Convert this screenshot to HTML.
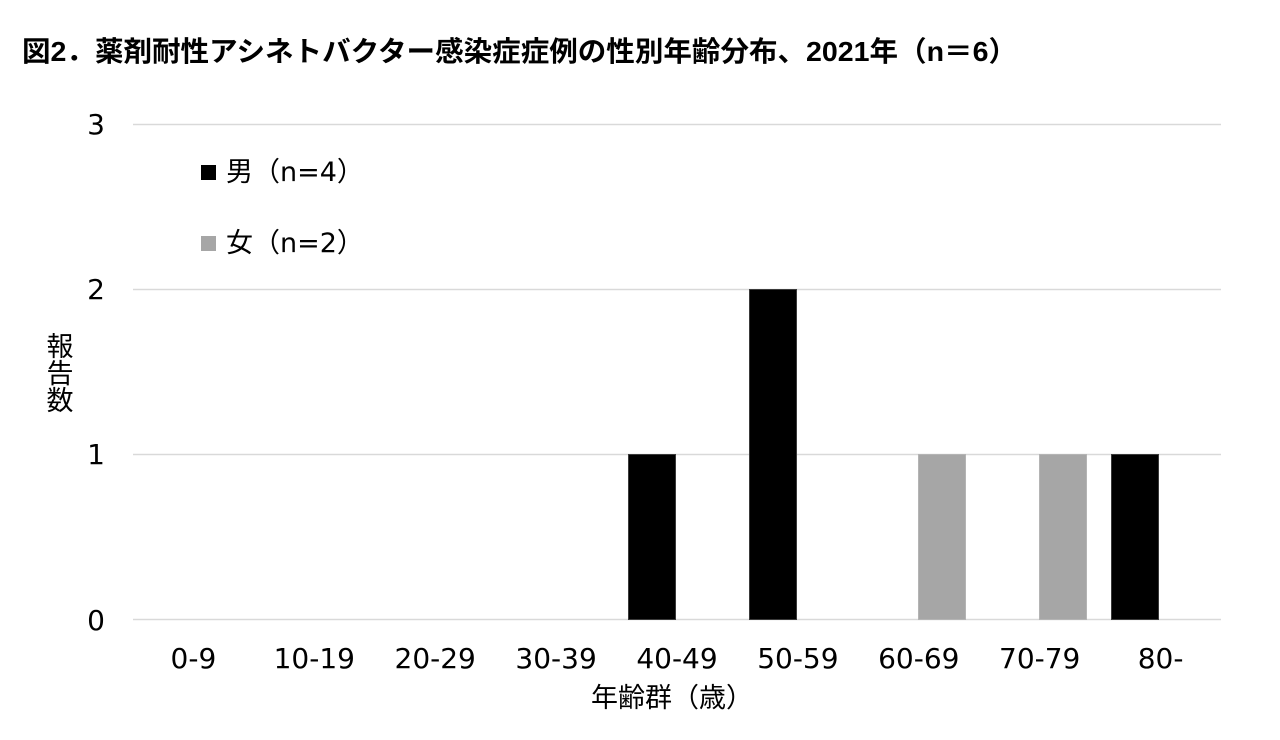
<!DOCTYPE html>
<html>
<head>
<meta charset="utf-8">
<style>
html,body{margin:0;padding:0;background:#fff;}
svg{display:block;}
.t{font-family:"Liberation Sans","Noto Sans CJK JP",sans-serif;font-weight:bold;}
.n{font-family:"DejaVu Sans","Noto Sans CJK JP",sans-serif;}
.j{font-family:"DejaVu Sans","Noto Sans CJK JP",sans-serif;}
</style>
</head>
<body>
<svg width="1280" height="740" viewBox="0 0 1280 740" xmlns="http://www.w3.org/2000/svg">
<rect width="1280" height="740" fill="#fff"/>
<text class="t" x="22" y="61" font-size="28" fill="#000" textLength="995" lengthAdjust="spacingAndGlyphs">図2．薬剤耐性アシネトバクター感染症症例の性別年齢分布、2021年（n＝6）</text>

<!-- gridlines -->
<g stroke="#d9d9d9" stroke-width="1.5">
<line x1="133" y1="124.5" x2="1221" y2="124.5"/>
<line x1="133" y1="289.5" x2="1221" y2="289.5"/>
<line x1="133" y1="454.5" x2="1221" y2="454.5"/>
<line x1="133" y1="619.5" x2="1221" y2="619.5"/>
</g>

<!-- y tick labels -->
<g class="n" font-size="28" fill="#000" text-anchor="end">
<text x="105" y="134">3</text>
<text x="105" y="299">2</text>
<text x="105" y="464">1</text>
<text x="105" y="630">0</text>
</g>

<!-- bars -->
<rect x="628.5" y="454.5" width="47" height="165" fill="#000" stroke="#3a3a3a" stroke-width="1"/>
<rect x="749.5" y="289.5" width="47" height="330" fill="#000" stroke="#3a3a3a" stroke-width="1"/>
<rect x="918.5" y="454.5" width="47" height="165" fill="#a6a6a6" stroke="#b4b4b4" stroke-width="1"/>
<rect x="1039.5" y="454.5" width="47" height="165" fill="#a6a6a6" stroke="#b4b4b4" stroke-width="1"/>
<rect x="1111.5" y="454.5" width="47" height="165" fill="#000" stroke="#3a3a3a" stroke-width="1"/>

<!-- x tick labels -->
<g class="n" font-size="28" fill="#000" text-anchor="middle">
<text x="193.4" y="668">0-9</text>
<text x="314.3" y="668">10-19</text>
<text x="435.2" y="668">20-29</text>
<text x="556.1" y="668">30-39</text>
<text x="677" y="668">40-49</text>
<text x="797.9" y="668">50-59</text>
<text x="918.8" y="668">60-69</text>
<text x="1039.7" y="668">70-79</text>
<text x="1160.6" y="668">80-</text>
</g>

<!-- axis titles -->
<text class="j" x="591" y="707" font-size="27" fill="#000">年齢群（歳）</text>
<g class="j" font-size="27" fill="#000" text-anchor="middle">
<text x="60" y="356">報</text>
<text x="60" y="383">告</text>
<text x="60" y="410">数</text>
</g>

<!-- legend -->
<rect x="201" y="165" width="15" height="15" fill="#000"/>
<text class="j" x="226" y="181" font-size="27" fill="#000">男（n=4）</text>
<rect x="201" y="236" width="15" height="15" fill="#a6a6a6"/>
<text class="j" x="226" y="252" font-size="27" fill="#000">女（n=2）</text>
</svg>
</body>
</html>
